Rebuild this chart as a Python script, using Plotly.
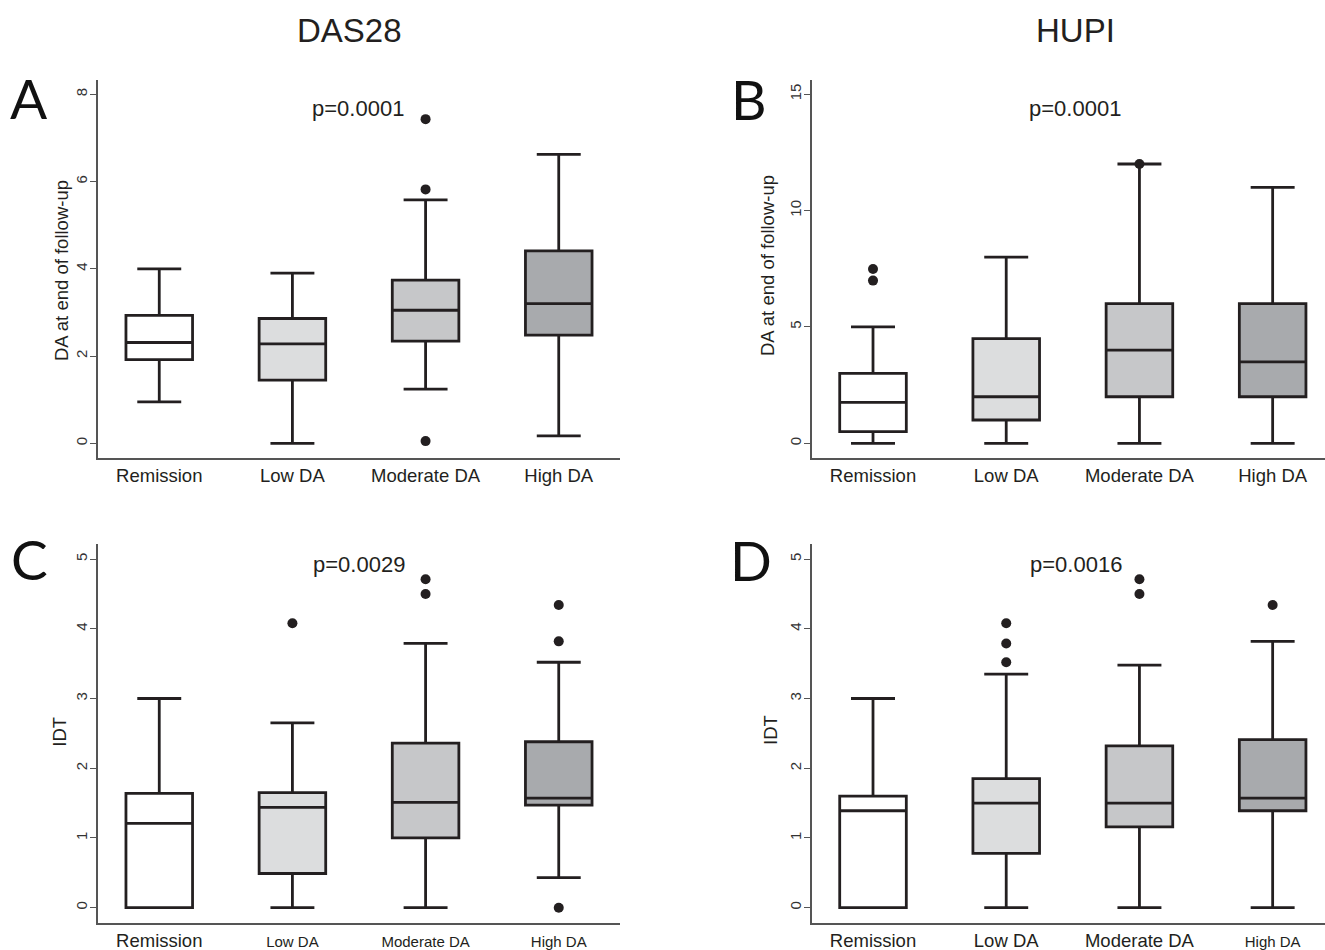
import plotly.graph_objects as go

categories = ["Remission", "Low DA", "Moderate DA", "High DA"]
fill_colors = ["#ffffff", "#dcddde", "#c6c7c9", "#a8aaad"]

# Panel A: DAS28 - DA at end of follow-up
a_lower = [0.95, 0.0, 1.24, 0.17]
a_q1 = [1.92, 1.45, 2.34, 2.48]
a_median = [2.31, 2.28, 3.05, 3.20]
a_q3 = [2.93, 2.86, 3.74, 4.41]
a_upper = [4.00, 3.90, 5.58, 6.62]
a_out_cat = ["Moderate DA", "Moderate DA", "Moderate DA"]
a_out_val = [7.43, 5.82, 0.05]

# Panel B: HUPI - DA at end of follow-up
b_lower = [0.0, 0.0, 0.0, 0.0]
b_q1 = [0.5, 1.0, 2.0, 2.0]
b_median = [1.76, 2.0, 4.0, 3.5]
b_q3 = [3.0, 4.5, 6.0, 6.0]
b_upper = [5.0, 8.0, 12.0, 11.0]
b_out_cat = ["Remission", "Remission", "Moderate DA"]
b_out_val = [7.49, 6.99, 12.0]

# Panel C: DAS28 - IDT
c_lower = [0.0, 0.0, 0.0, 0.43]
c_q1 = [0.0, 0.49, 1.0, 1.47]
c_median = [1.21, 1.44, 1.51, 1.57]
c_q3 = [1.64, 1.65, 2.36, 2.38]
c_upper = [3.0, 2.65, 3.79, 3.52]
c_out_cat = ["Low DA", "Moderate DA", "Moderate DA", "High DA", "High DA", "High DA"]
c_out_val = [4.08, 4.71, 4.50, 4.34, 3.82, 0.0]

# Panel D: HUPI - IDT
d_lower = [0.0, 0.0, 0.0, 0.0]
d_q1 = [0.0, 0.78, 1.16, 1.39]
d_median = [1.39, 1.50, 1.50, 1.57]
d_q3 = [1.60, 1.85, 2.32, 2.41]
d_upper = [3.0, 3.35, 3.48, 3.82]
d_out_cat = ["Low DA", "Low DA", "Low DA", "Moderate DA", "Moderate DA", "High DA"]
d_out_val = [4.08, 3.79, 3.52, 4.71, 4.50, 4.34]

column_titles = ["DAS28", "HUPI"]
panel_letters = ["A", "B", "C", "D"]
p_values = ["p=0.0001", "p=0.0001", "p=0.0029", "p=0.0016"]
y_titles = ["DA at end of follow-up", "DA at end of follow-up", "IDT", "IDT"]
a_yticks = [0, 2, 4, 6, 8]
b_yticks = [0, 5, 10, 15]
cd_yticks = [0, 1, 2, 3, 4, 5]

# per-label font sizes (px) for x tick labels
a_label_sizes = [18.5, 18.5, 18.5, 18.5]
b_label_sizes = [18.5, 18.5, 18.5, 18.5]
c_label_sizes = [18.5, 15, 15, 15]
d_label_sizes = [18.5, 18.5, 18.5, 15]

W, H = 1325, 950
DARK = "#231f20"
AXIS = "#555555"
FONT = "Liberation Sans, Arial, sans-serif"

panels = [
    dict(lower=a_lower, q1=a_q1, med=a_median, q3=a_q3, upper=a_upper,
         oc=a_out_cat, ov=a_out_val, yticks=a_yticks, sizes=a_label_sizes,
         xdom=[98 / W, 620 / W], ydom=[1 - 458.3 / H, 1 - 80 / H],
         xr=[-0.46, 3.46], yr=[-0.344, 8.327]),
    dict(lower=b_lower, q1=b_q1, med=b_median, q3=b_q3, upper=b_upper,
         oc=b_out_cat, ov=b_out_val, yticks=b_yticks, sizes=b_label_sizes,
         xdom=[811.6 / W, 1.0], ydom=[1 - 458.3 / H, 1 - 80 / H],
         xr=[-0.461, 3.393], yr=[-0.645, 15.61]),
    dict(lower=c_lower, q1=c_q1, med=c_median, q3=c_q3, upper=c_upper,
         oc=c_out_cat, ov=c_out_val, yticks=cd_yticks, sizes=c_label_sizes,
         xdom=[98 / W, 620 / W], ydom=[1 - 923.3 / H, 1 - 544 / H],
         xr=[-0.46, 3.46], yr=[-0.224, 5.216]),
    dict(lower=d_lower, q1=d_q1, med=d_median, q3=d_q3, upper=d_upper,
         oc=d_out_cat, ov=d_out_val, yticks=cd_yticks, sizes=d_label_sizes,
         xdom=[811.6 / W, 1.0], ydom=[1 - 923.3 / H, 1 - 544 / H],
         xr=[-0.461, 3.393], yr=[-0.224, 5.216]),
]

fig = go.Figure()
layout_axes = {}
xpos = list(range(len(categories)))

for pi, p in enumerate(panels):
    n = "" if pi == 0 else str(pi + 1)
    xa, ya = "x" + n, "y" + n
    for ci, cat in enumerate(categories):
        fig.add_trace(go.Box(
            x=[xpos[ci]], q1=[p["q1"][ci]], median=[p["med"][ci]], q3=[p["q3"][ci]],
            lowerfence=[p["lower"][ci]], upperfence=[p["upper"][ci]],
            fillcolor=fill_colors[ci], line=dict(color=DARK, width=2.8),
            width=0.5, whiskerwidth=0.66, boxpoints=False, hoverinfo="skip",
            xaxis=xa, yaxis=ya, showlegend=False, name=cat))
    fig.add_trace(go.Scatter(
        x=[categories.index(c) for c in p["oc"]], y=p["ov"], mode="markers",
        marker=dict(color=DARK, size=10), xaxis=xa, yaxis=ya, showlegend=False,
        hoverinfo="skip"))
    ticktext = []
    for ci, cat in enumerate(categories):
        ticktext.append('<span style="font-size:%spx">%s</span>' % (p["sizes"][ci], cat))
    layout_axes["xaxis" + n] = dict(
        domain=p["xdom"], range=p["xr"], anchor=ya, tickmode="array",
        tickvals=xpos, ticktext=ticktext, showline=True, linecolor=AXIS,
        linewidth=1.5, ticks="", showgrid=False, zeroline=False,
        tickfont=dict(family=FONT, size=18.5, color=DARK), fixedrange=True)
    layout_axes["yaxis" + n] = dict(
        domain=p["ydom"], range=p["yr"], anchor=xa, tickmode="array",
        tickvals=p["yticks"], ticktext=[str(v) for v in p["yticks"]],
        tickangle=-90, showline=True, linecolor=AXIS, linewidth=1.5,
        ticks="outside", ticklen=6, tickwidth=1.2, tickcolor=AXIS,
        ticklabelstandoff=-3,
        showgrid=False, zeroline=False,
        tickfont=dict(family=FONT, size=15, color="#333333"), fixedrange=True)

annotations = []
# column titles
for txt, xc in zip(column_titles, [349.5, 1075]):
    annotations.append(dict(text=txt, x=xc / W, y=1 - 30.5 / H, xref="paper", yref="paper",
                            xanchor="center", yanchor="middle", showarrow=False,
                            font=dict(family=FONT, size=33, color=DARK)))
# panel letters
for txt, (xc, yc) in zip(panel_letters, [(28.7, 98.3), (748.5, 98.5), (29, 559), (751, 560)]):
    annotations.append(dict(text=txt, x=xc / W, y=1 - yc / H, xref="paper", yref="paper",
                            xanchor="center", yanchor="middle", showarrow=False,
                            font=dict(family="Lato, Open Sans, sans-serif", size=55, color="#111111")))
# p-values
for txt, (xc, yc) in zip(p_values, [(358, 109), (1074.5, 109), (358.7, 564), (1075.6, 564)]):
    annotations.append(dict(text=txt, x=xc / W, y=1 - yc / H, xref="paper", yref="paper",
                            xanchor="center", yanchor="middle", showarrow=False,
                            font=dict(family=FONT, size=22, color=DARK)))
# y titles
for txt, (xc, yc) in zip(y_titles, [(61, 271), (767, 266), (60, 731.7), (770, 730)]):
    annotations.append(dict(text=txt, x=xc / W, y=1 - yc / H, xref="paper", yref="paper",
                            xanchor="center", yanchor="middle", showarrow=False, textangle=-90,
                            font=dict(family=FONT, size=18.5, color=DARK)))

fig.update_layout(
    width=W, height=H, margin=dict(l=0, r=0, t=0, b=0),
    paper_bgcolor="white", plot_bgcolor="white", showlegend=False,
    annotations=annotations, **layout_axes)

fig.write_html("out.html")
